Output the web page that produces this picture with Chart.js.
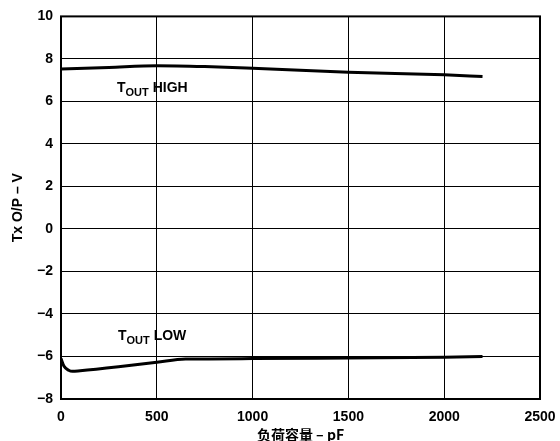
<!DOCTYPE html>
<html>
<head>
<meta charset="utf-8">
<script src="https://cdn.jsdelivr.net/npm/chart.js@4.4.1/dist/chart.umd.min.js"></script>
<style>
  html, body { margin: 0; padding: 0; background: #fff; }
  #wrap { width: 560px; height: 441px; position: relative; }
</style>
</head>
<body>
<div id="wrap"><canvas id="c" width="560" height="441"></canvas></div>
<script>
// Load capacitance (pF) and transmitter output voltage (V)
const highCapacitance = [0, 250, 500, 750, 1000, 1500, 2000, 2200];
const highVoltage = [7.52, 7.6, 7.68, 7.64, 7.56, 7.37, 7.25, 7.17];
const lowCapacitance = [0, 15, 40, 60, 100, 300, 500, 650, 1000, 1500, 2000, 2200];
const lowVoltage = [-6.1, -6.45, -6.65, -6.7, -6.67, -6.48, -6.27, -6.12, -6.1, -6.07, -6.04, -6.0];
const xTicks = [0, 500, 1000, 1500, 2000, 2500];
const yTicks = [-8, -6, -4, -2, 0, 2, 4, 6, 8, 10];

const FONT = "'Liberation Sans', Arial, sans-serif";

const toPoints = (xs, ys) => xs.map((x, i) => ({ x, y: ys[i] }));

// Frame around the plotting area plus the in-plot series labels
const framePlugin = {
  id: 'frame',
  afterDraw(chart) {
    const { ctx, chartArea: a } = chart;
    ctx.save();
    ctx.strokeStyle = '#000';
    ctx.lineWidth = 2;
    ctx.strokeRect(a.left, a.top, a.right - a.left, a.bottom - a.top);

    const label = (x, y, rest) => {
      ctx.fillStyle = '#000';
      ctx.textBaseline = 'alphabetic';
      ctx.textAlign = 'left';
      ctx.font = 'bold 14px ' + FONT;
      ctx.fillText('T', x, y);
      let cx = x + ctx.measureText('T').width;
      ctx.font = 'bold 11px ' + FONT;
      ctx.fillText('OUT', cx, y + 4);
      cx += ctx.measureText('OUT').width;
      ctx.font = 'bold 14px ' + FONT;
      ctx.fillText(' ' + rest, cx, y);
    };
    label(117, 92, 'HIGH');
    label(118, 340, 'LOW');
    ctx.restore();
  }
};

new Chart(document.getElementById('c'), {
  type: 'line',
  data: {
    datasets: [
      {
        data: toPoints(highCapacitance, highVoltage),
        borderColor: '#000',
        borderWidth: 3,
        pointRadius: 0,
        cubicInterpolationMode: 'monotone',
        fill: false
      },
      {
        data: toPoints(lowCapacitance, lowVoltage),
        borderColor: '#000',
        borderWidth: 3,
        pointRadius: 0,
        cubicInterpolationMode: 'monotone',
        fill: false
      }
    ]
  },
  options: {
    responsive: false,
    animation: false,
    layout: { padding: { top: 8, right: 0, left: 10, bottom: 0 } },
    plugins: {
      legend: { display: false },
      tooltip: { enabled: false }
    },
    scales: {
      x: {
        type: 'linear',
        min: 0,
        max: 2500,
        afterBuildTicks(scale) { scale.ticks = xTicks.map(v => ({ value: v })); },
        afterFit(scale) {
          scale.height = 42;
          scale.paddingRight = 20;
        },
        ticks: {
          color: '#000',
          font: { family: FONT, size: 14, weight: 'bold' },
          padding: 10,
          maxRotation: 0,
          callback: v => String(v)
        },
        grid: { color: '#000', lineWidth: 1, drawTicks: false },
        border: { display: false },
        title: {
          display: true,
          text: '负荷容量 – pF',
          color: '#000',
          font: { family: "'Noto Sans CJK SC', " + FONT, size: 14, weight: 'bold' },
          padding: { top: 0, bottom: -2 }
        }
      },
      y: {
        type: 'linear',
        min: -8,
        max: 10,
        afterBuildTicks(scale) { scale.ticks = yTicks.map(v => ({ value: v })); },
        afterFit(scale) { scale.width = 51; },
        ticks: {
          color: '#000',
          font: { family: FONT, size: 14, weight: 'bold' },
          padding: 8,
          callback: v => (v < 0 ? '\u2212' + Math.abs(v) : String(v))
        },
        grid: { color: '#000', lineWidth: 1, drawTicks: false },
        border: { display: false },
        title: {
          display: true,
          text: 'Tx O/P \u2013 V',
          color: '#000',
          font: { family: FONT, size: 14, weight: 'bold' },
          padding: { top: 0, bottom: 4 }
        }
      }
    }
  },
  plugins: [framePlugin]
});
</script>
</body>
</html>
